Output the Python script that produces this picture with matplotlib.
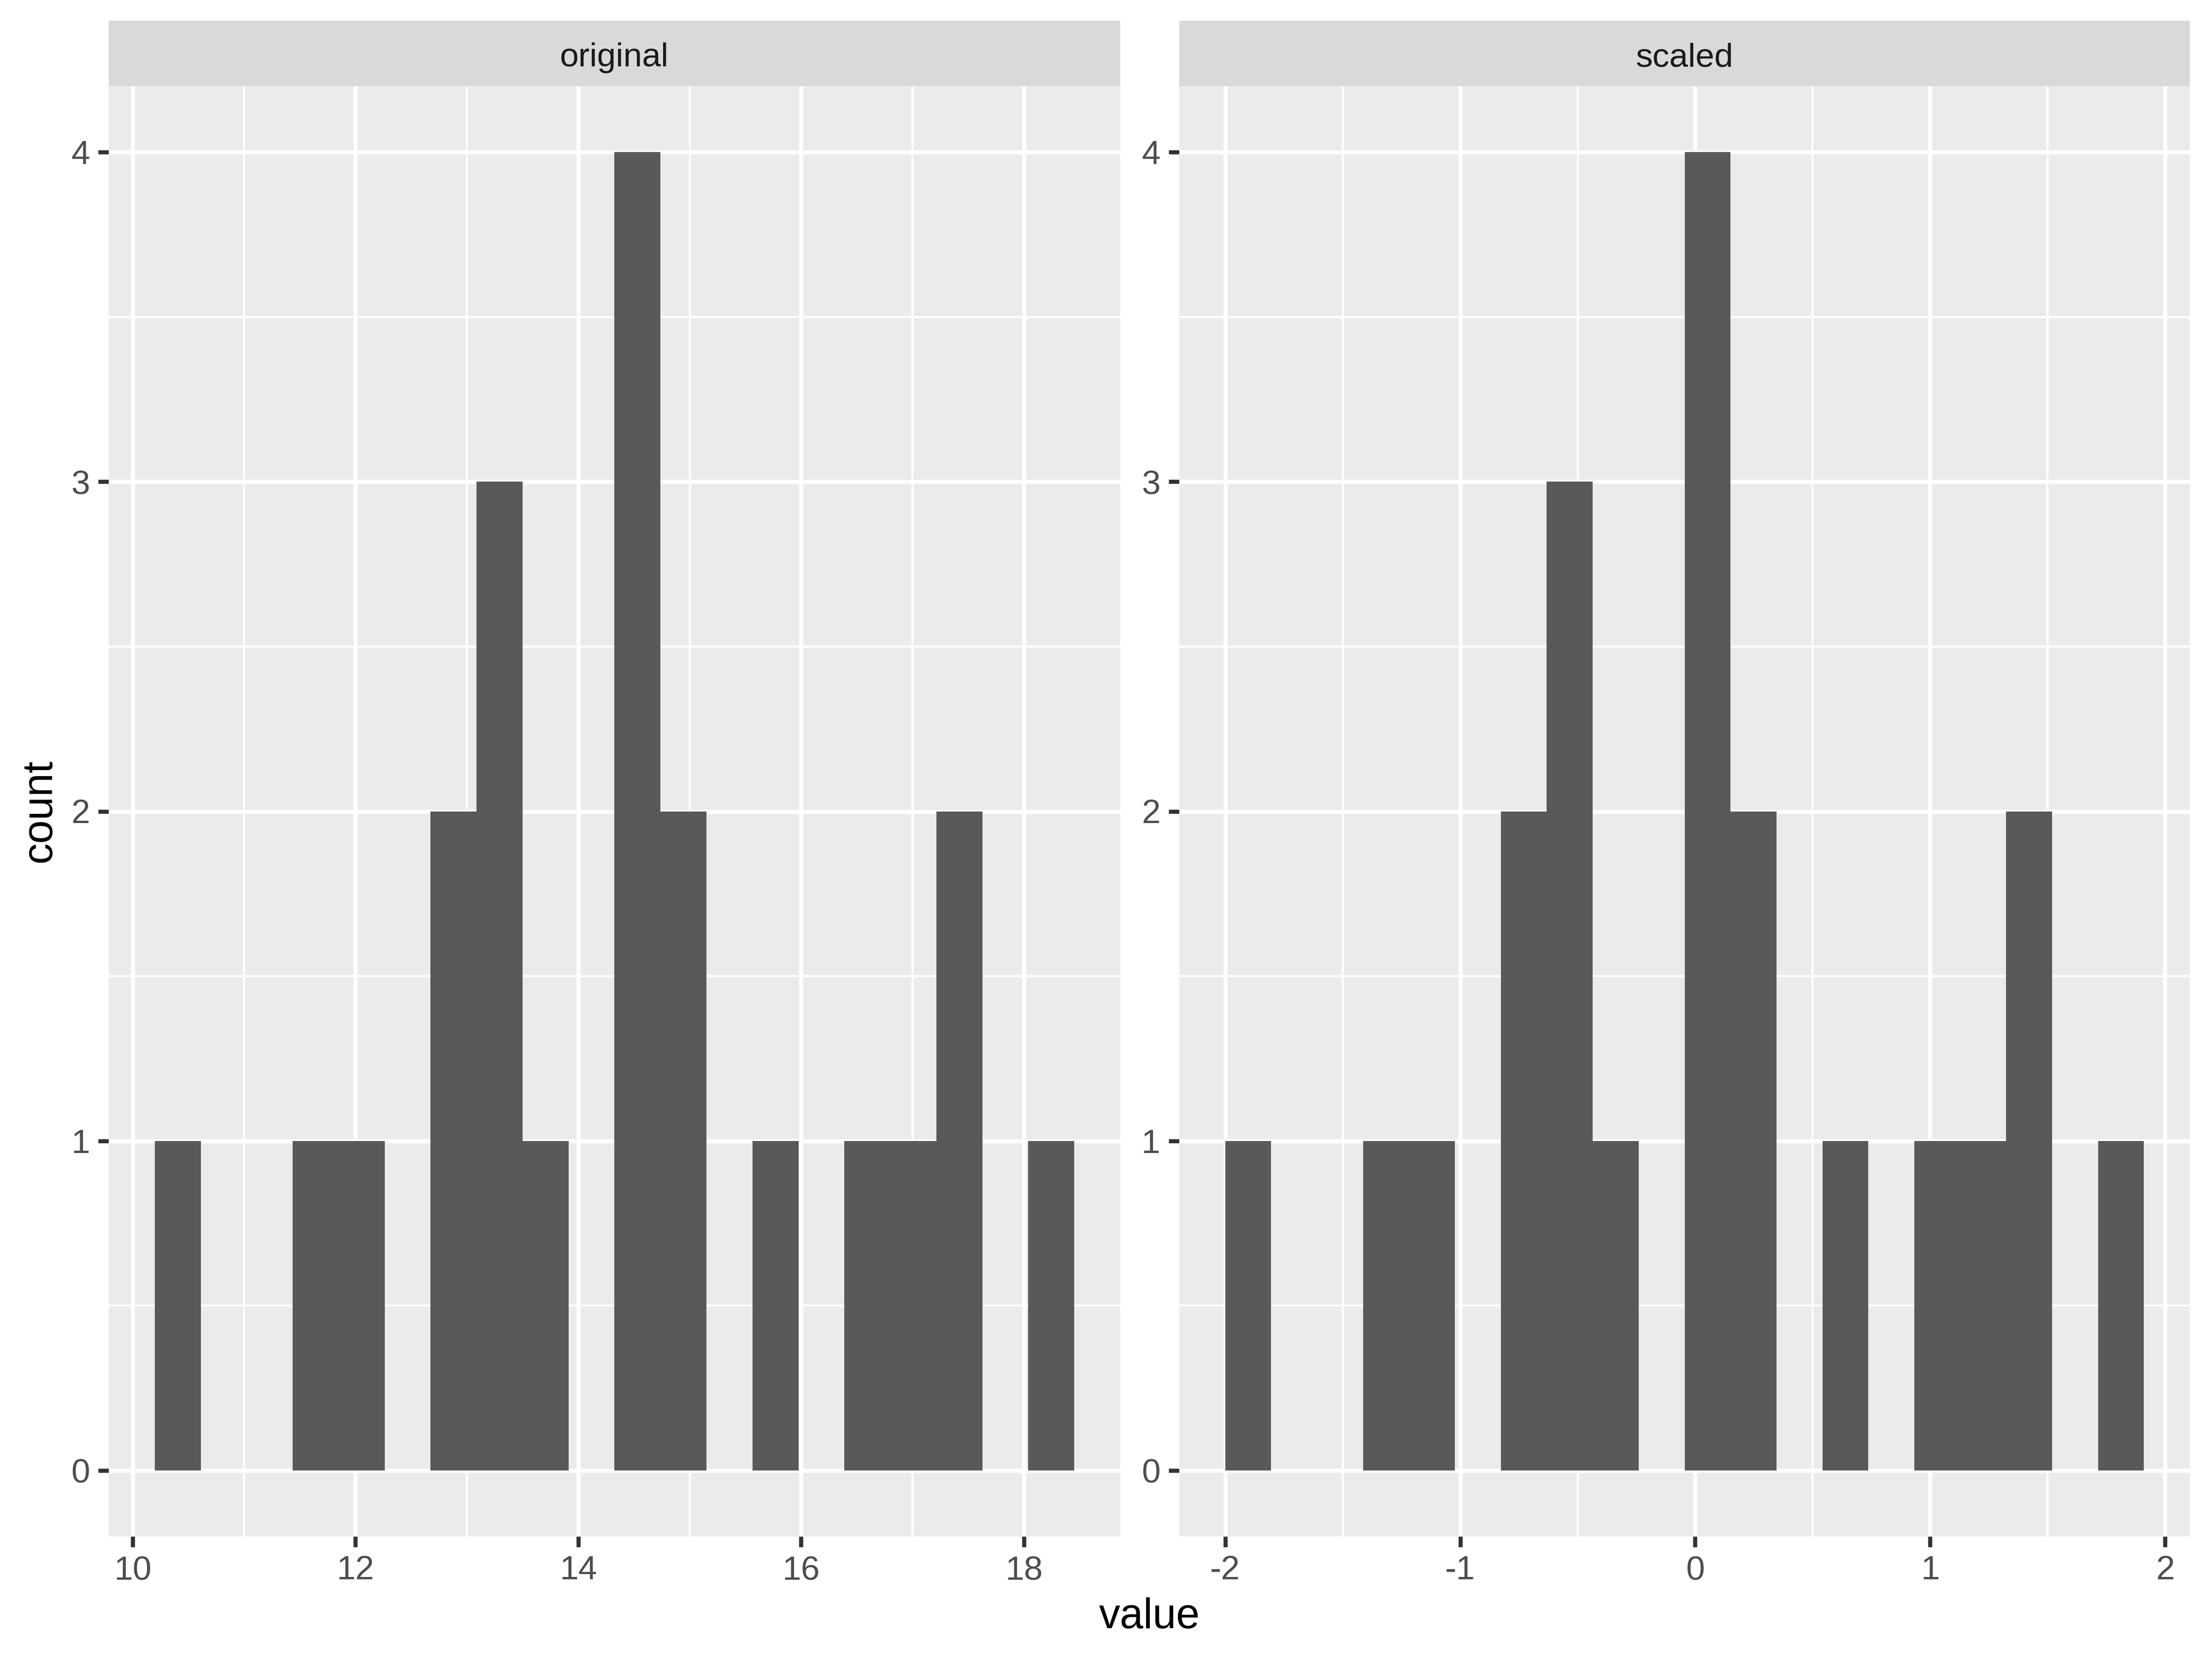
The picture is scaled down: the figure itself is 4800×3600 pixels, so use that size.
import numpy as np
import matplotlib
matplotlib.use('Agg')
import matplotlib.pyplot as plt

plt.rcParams['font.family'] = ['Liberation Sans', 'DejaVu Sans']

# 数据：两个分面共用同一组分箱计数（20个箱）
bin_counts = [1, 0, 0, 1, 1, 0, 2, 3, 1, 0, 4, 2, 0, 1, 0, 1, 1, 2, 0, 1]
panel_names = ['original', 'scaled']
bin_start = [10.198, -2.0]        # 第一个箱的左边界
bin_width = [0.4127, 0.1955]      # 箱宽
x_major = [[10, 12, 14, 16, 18], [-2, -1, 0, 1, 2]]
x_minor = [[11, 13, 15, 17], [-1.5, -0.5, 0.5, 1.5]]
y_major = [0, 1, 2, 3, 4]
y_minor = [0.5, 1.5, 2.5, 3.5]

fig = plt.figure(figsize=(16, 12), dpi=300)

panel_left = [236 / 4800, 2559 / 4800]
panel_w = [2195 / 4800, 2193 / 4800]
panel_bottom = 1 - 3334 / 3600
panel_h = (3334 - 187) / 3600
strip_h = (187 - 45) / 3600

for i in range(2):
    ax = fig.add_axes([panel_left[i], panel_bottom, panel_w[i], panel_h])
    ax.set_facecolor('#EBEBEB')
    edges = bin_start[i] + bin_width[i] * np.arange(len(bin_counts))
    ax.bar(edges, bin_counts, width=bin_width[i], align='edge',
           color='#595959', linewidth=0, zorder=3)

    # 坐标范围：按 ggplot 的 5% 扩展
    lo = bin_start[i]
    hi = bin_start[i] + bin_width[i] * len(bin_counts)
    pad = (hi - lo) * 0.05
    ax.set_xlim(lo - pad, hi + pad)
    ax.set_ylim(-0.2, 4.2)

    for v in x_minor[i]:
        ax.axvline(v, color='white', lw=1.07, zorder=1)
    for v in y_minor:
        ax.axhline(v, color='white', lw=1.07, zorder=1)
    for v in x_major[i]:
        ax.axvline(v, color='white', lw=2.13, zorder=2)
    for v in y_major:
        ax.axhline(v, color='white', lw=2.13, zorder=2)

    ax.set_xticks(x_major[i])
    ax.set_xticklabels([str(v) for v in x_major[i]])
    ax.set_yticks(y_major)
    ax.tick_params(axis='both', length=5.5, width=2.13, color='#333333',
                   labelcolor='#4D4D4D', labelsize=17.6, pad=4.4)
    for s in ax.spines.values():
        s.set_visible(False)

    # 分面标题条
    sax = fig.add_axes([panel_left[i], panel_bottom + panel_h, panel_w[i], strip_h])
    sax.set_facecolor('#D9D9D9')
    sax.set_xticks([])
    sax.set_yticks([])
    for s in sax.spines.values():
        s.set_visible(False)
    sax.text(0.5, 0.30, panel_names[i], ha='center', va='baseline',
             fontsize=17.6, color='#1A1A1A', transform=sax.transAxes)

fig.text(0.5196, 1 - 3509 / 3600, 'value', ha='center', va='center', fontsize=22)
fig.text(86 / 4800, 1 - 1760 / 3600, 'count', ha='center', va='center',
         rotation=90, fontsize=22)

fig.savefig('out.png', dpi=300, facecolor='white')
